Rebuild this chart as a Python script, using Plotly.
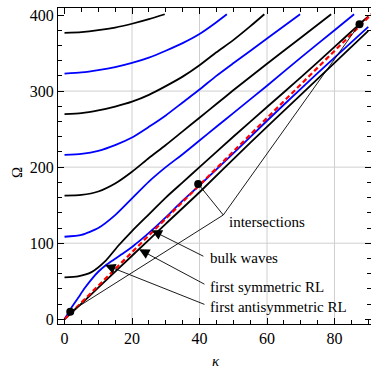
import plotly.graph_objects as go

# ---------------- data ----------------
# bulk waves (red dashed)
bulk_k = [0, 91]
bulk_O = [0, 401.3]

# first antisymmetric RL (blue, from origin)
as1_k = [0, 2, 4, 6, 8, 10, 12.5, 15, 17.5, 20, 22.5, 25, 30, 35, 40, 50, 60, 70, 80, 90]
as1_O = [0, 15, 28, 41, 52.5, 62.5, 72, 79.5, 87, 95, 104, 113.5, 134, 156, 176, 218, 261, 303, 344, 384.5]

# first symmetric RL (black, from origin)
s1_k = [0, 1.7, 5, 10, 20, 30, 40, 55, 70, 80, 90]
s1_O = [0, 7, 20.5, 41.5, 83.5, 125.5, 167, 232, 295, 337, 379]

# higher modes
m1_k = [0, 4, 8, 12, 16, 20, 25, 30, 35, 40, 50, 60, 70, 80, 87.4, 90]
m1_O = [55, 56.5, 62, 76, 97, 116, 138, 160, 180, 200, 240, 279, 318, 358, 388, 398]

m2_k = [0, 5, 10, 15, 20, 25, 30, 35, 40, 45, 50, 60, 70, 80, 85.8]
m2_O = [108.5, 111, 120, 137, 159, 181, 200, 217, 235, 253, 271, 307, 344, 380, 401]

m3_k = [0, 5, 10, 15, 20, 25, 30, 35, 40, 45, 50, 60, 70, 79]
m3_O = [162.5, 163.5, 168, 178.5, 194, 212, 229, 247, 265, 283, 301, 336, 370, 401]

m4_k = [0, 5, 10, 15, 20, 25, 30, 35, 40, 45, 50, 60, 69.8]
m4_O = [216, 217.5, 221.5, 229, 239, 253, 268, 285, 302, 320, 336.5, 369, 401]

m5_k = [0, 5, 10, 15, 20, 25, 30, 35, 40, 45, 50, 55, 59.2]
m5_O = [269.8, 271, 274.5, 279.5, 286, 295, 306.5, 319, 334, 351, 367, 385, 401]

m6_k = [0, 5, 10, 15, 20, 25, 30, 35, 40, 44.4, 48.1]
m6_O = [323, 324.5, 327.5, 331.5, 337, 344, 353, 363, 375, 388.5, 401]

m7_k = [0, 5, 10, 15, 20, 25, 29.7]
m7_O = [376.5, 377.5, 380, 383.5, 388.5, 394.5, 401]

# intersection points
dot_k = [1.7, 39.6, 87.4]
dot_O = [10, 178, 388]

# annotation geometry (data units)
inter_vertex = (47.05, 137.1)
labels = ["intersections", "bulk waves", "first symmetric RL", "first antisymmetric RL"]
label_k = [48.1, 42.6, 42.6, 42.6]
label_O = [128.5, 80.2, 42.0, 15.8]
arrow_tail_k = [41.6, 41.9, 41.9]
arrow_tail_O = [81.9, 45.1, 18.8]
arrow_tip_k = [25.8, 22.1, 12.0]
arrow_tip_O = [117.0, 92.0, 71.5]

x_grid = [20, 40, 60, 80]
y_grid = [100, 200, 300]

# ---------------- figure ----------------
fig = go.Figure()

BLACK = "#000000"
BLUE = "#0000ff"
LW = 1.8
SERIF = "Liberation Serif, Times New Roman, serif"

higher = [(m1_k, m1_O, BLACK), (m2_k, m2_O, BLUE), (m3_k, m3_O, BLACK),
          (m4_k, m4_O, BLUE), (m5_k, m5_O, BLACK), (m6_k, m6_O, BLUE),
          (m7_k, m7_O, BLACK)]
for kk, oo, c in higher:
    fig.add_trace(go.Scatter(x=kk, y=oo, mode="lines",
                             line=dict(color=c, width=LW, shape="spline", smoothing=0.6),
                             hoverinfo="skip"))

fig.add_trace(go.Scatter(x=s1_k, y=s1_O, mode="lines",
                         line=dict(color=BLACK, width=LW, shape="spline", smoothing=0.6)))
fig.add_trace(go.Scatter(x=as1_k, y=as1_O, mode="lines",
                         line=dict(color=BLUE, width=LW, shape="spline", smoothing=0.8)))
fig.add_trace(go.Scatter(x=bulk_k, y=bulk_O, mode="lines",
                         line=dict(color="#ff0000", width=2.2, dash="5px,3px")))

# intersection leader lines
for dk, do in zip(dot_k, dot_O):
    fig.add_trace(go.Scatter(x=[inter_vertex[0], dk], y=[inter_vertex[1], do], mode="lines",
                             line=dict(color=BLACK, width=0.9)))

fig.add_trace(go.Scatter(x=dot_k, y=dot_O, mode="markers", marker=dict(color=BLACK, size=8)))

annotations = []
for t, lk, lo in zip(labels, label_k, label_O):
    annotations.append(dict(x=lk, y=lo, xref="x", yref="y", text=t, showarrow=False,
                            xanchor="left", yanchor="middle",
                            font=dict(family=SERIF, size=15, color="black")))
for tk, to, hk, ho in zip(arrow_tail_k, arrow_tail_O, arrow_tip_k, arrow_tip_O):
    annotations.append(dict(x=hk, y=ho, xref="x", yref="y", ax=tk, ay=to, axref="x", ayref="y",
                            text="", showarrow=True, arrowhead=2, arrowsize=2.3, arrowwidth=0.9,
                            arrowcolor="black", standoff=0, startstandoff=0))
# axis titles
annotations.append(dict(x=-0.131, y=0.481, xref="paper", yref="paper", text="Ω", showarrow=False,
                        xanchor="center", yanchor="middle", textangle=-90,
                        font=dict(family=SERIF, size=15, color="black")))
annotations.append(dict(x=0.505, y=-0.118, xref="paper", yref="paper", text="<i>κ</i>", showarrow=False,
                        xanchor="center", yanchor="middle",
                        font=dict(family=SERIF, size=15, color="black")))

shapes = []
for g in x_grid:
    shapes.append(dict(type="line", xref="x", yref="paper", x0=g, x1=g, y0=0, y1=1,
                       line=dict(color="#cfcfcf", width=1), layer="below"))
for g in y_grid:
    shapes.append(dict(type="line", xref="paper", yref="y", x0=0, x1=1, y0=g, y1=g,
                       line=dict(color="#cfcfcf", width=1), layer="below"))

axis_common = dict(showline=True, linecolor="black", linewidth=1.2, mirror="allticks",
                   ticks="inside", ticklen=6, tickwidth=1, tickcolor="black",
                   showgrid=False, zeroline=False,
                   tickfont=dict(family=SERIF, size=16, color="black"))

fig.update_layout(
    width=371, height=371,
    margin=dict(l=58, r=0, t=8, b=47),
    paper_bgcolor="white", plot_bgcolor="white",
    showlegend=False,
    xaxis=dict(range=[-1.93, 90.81], tick0=0, dtick=20,
               minor=dict(dtick=5, tick0=0, ticks="inside", ticklen=3.5, tickcolor="black", showgrid=False),
               **axis_common),
    yaxis=dict(range=[-6.2, 409.2], tick0=0, dtick=100,
               minor=dict(dtick=20, tick0=0, ticks="inside", ticklen=3.5, tickcolor="black", showgrid=False),
               **axis_common),
    annotations=annotations,
    shapes=shapes,
)

fig.write_html("out.html")
